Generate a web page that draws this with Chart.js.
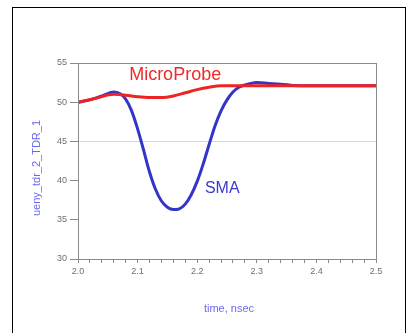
<!DOCTYPE html>
<html>
<head>
<meta charset="utf-8">
<script src="https://cdn.jsdelivr.net/npm/chart.js@4/dist/chart.umd.min.js"></script>
<style>
  html, body { margin: 0; padding: 0; background: #fff; }
  #wrap { position: relative; width: 411px; height: 333px; overflow: hidden; }
  #frame { position: absolute; left: 12px; top: 7px; width: 392px; height: 340px; border: 1px solid #000; }
  canvas { position: absolute; left: 0; top: 0; }
</style>
</head>
<body>
<div id="wrap">
  <div id="frame"></div>
  <canvas id="c" width="411" height="333"></canvas>
</div>
<script>
// valores (tiempo en nsec)
const smaTime = [2.00, 2.02, 2.04, 2.06, 2.07, 2.08, 2.09, 2.10, 2.11, 2.12, 2.13, 2.14, 2.15, 2.16, 2.17,
  2.18, 2.19, 2.20, 2.21, 2.22, 2.23, 2.24, 2.25, 2.26, 2.27, 2.28, 2.29, 2.30, 2.32, 2.34, 2.37, 2.40, 2.50];
const smaValues = [50.0, 50.3, 50.8, 51.3, 51.1, 50.4, 48.9, 46.6, 43.9, 41.1, 38.9, 37.4, 36.6, 36.3, 36.4,
  37.0, 38.2, 39.9, 42.1, 44.6, 47.0, 48.9, 50.3, 51.3, 51.9, 52.2, 52.4, 52.5, 52.4, 52.3, 52.1, 52.1, 52.1];

const probeTime = [2.00, 2.03, 2.06, 2.08, 2.10, 2.12, 2.14, 2.16, 2.18, 2.20, 2.22, 2.24, 2.26, 2.30, 2.40, 2.50];
const probeValues = [50.0, 50.5, 51.0, 50.9, 50.7, 50.6, 50.6, 50.8, 51.2, 51.6, 51.9, 52.1, 52.1, 52.1, 52.1, 52.1];

const yTicks = [30, 35, 40, 45, 50, 55];
const xTickLabels = ['2.0', '2.1', '2.2', '2.3', '2.4', '2.5'];

const xAxisTitle = 'time, nsec';
const yAxisTitle = 'ueny_tdr_2_TDR_1';

const toPoints = (xs, ys) => xs.map((x, i) => ({ x: x, y: ys[i] }));

// marco del area de trazado, titulos y etiquetas de series
const extras = {
  id: 'extras',
  afterDraw(chart) {
    const { ctx, chartArea: a, scales } = chart;
    ctx.save();
    ctx.strokeStyle = '#8a8a8a';
    ctx.lineWidth = 1;
    ctx.strokeRect(a.left + 0.5, a.top + 0.5, a.right - a.left, a.bottom - a.top);

    ctx.fillStyle = '#ee2a2a';
    ctx.font = '18px "Liberation Sans", Arial, sans-serif';
    ctx.textAlign = 'center';
    ctx.textBaseline = 'middle';
    ctx.fillText('MicroProbe', scales.x.getPixelForValue(2.163), scales.y.getPixelForValue(53.5));

    ctx.fillStyle = '#3a3ad0';
    ctx.font = '16px "Liberation Sans", Arial, sans-serif';
    ctx.fillText('SMA', scales.x.getPixelForValue(2.242), scales.y.getPixelForValue(39.0));

    ctx.fillStyle = '#6a6af0';
    ctx.font = '11px "Liberation Sans", Arial, sans-serif';
    ctx.fillText(xAxisTitle, (a.left + a.right) / 2 + 2, 309);

    ctx.translate(37, 168);
    ctx.rotate(-Math.PI / 2);
    ctx.fillText(yAxisTitle, 0, 0);
    ctx.restore();
  }
};

new Chart(document.getElementById('c'), {
  type: 'line',
  data: {
    datasets: [{
      label: 'MicroProbe',
      data: toPoints(probeTime, probeValues),
      borderColor: '#ee2424',
      borderWidth: 3,
      pointRadius: 0,
      cubicInterpolationMode: 'monotone',
      fill: false
    }, {
      label: 'SMA',
      data: toPoints(smaTime, smaValues),
      borderColor: '#3434c8',
      borderWidth: 3,
      pointRadius: 0,
      cubicInterpolationMode: 'monotone',
      fill: false
    }]
  },
  options: {
    responsive: false,
    animation: false,
    layout: { padding: { left: 0, right: 35, top: 63, bottom: 0 } },
    plugins: { legend: { display: false }, tooltip: { enabled: false } },
    scales: {
      x: {
        type: 'linear',
        min: 2.0,
        max: 2.5,
        afterBuildTicks: (scale) => {
          const t = [];
          for (let i = 0; i <= 25; i++) t.push({ value: 2.0 + i * 0.02 });
          scale.ticks = t;
        },
        afterFit: (scale) => { scale.height = 333 - 259; },
        grid: {
          drawOnChartArea: false,
          tickLength: 4,
          tickColor: '#8a8a8a'
        },
        border: { color: '#8a8a8a' },
        ticks: {
          autoSkip: false,
          maxRotation: 0,
          color: '#6e6e6e',
          font: { size: 9, family: '"Liberation Sans", Arial, sans-serif' },
          padding: 3,
          callback: (v) => {
            const i = Math.round((v - 2.0) * 50);
            return i % 5 === 0 ? xTickLabels[i / 5] : '';
          }
        }
      },
      y: {
        min: 30,
        max: 55,
        afterBuildTicks: (scale) => { scale.ticks = yTicks.map(v => ({ value: v })); },
        afterFit: (scale) => { scale.width = 78; },
        grid: {
          color: (c) => c.tick && c.tick.value === 45 ? '#d8d8d8' : 'rgba(0,0,0,0)',
          tickLength: 8,
          tickColor: '#8a8a8a'
        },
        border: { color: '#8a8a8a' },
        ticks: {
          color: '#6e6e6e',
          font: { size: 9, family: '"Liberation Sans", Arial, sans-serif' },
          padding: 3
        }
      }
    }
  },
  plugins: [extras]
});
</script>
</body>
</html>
